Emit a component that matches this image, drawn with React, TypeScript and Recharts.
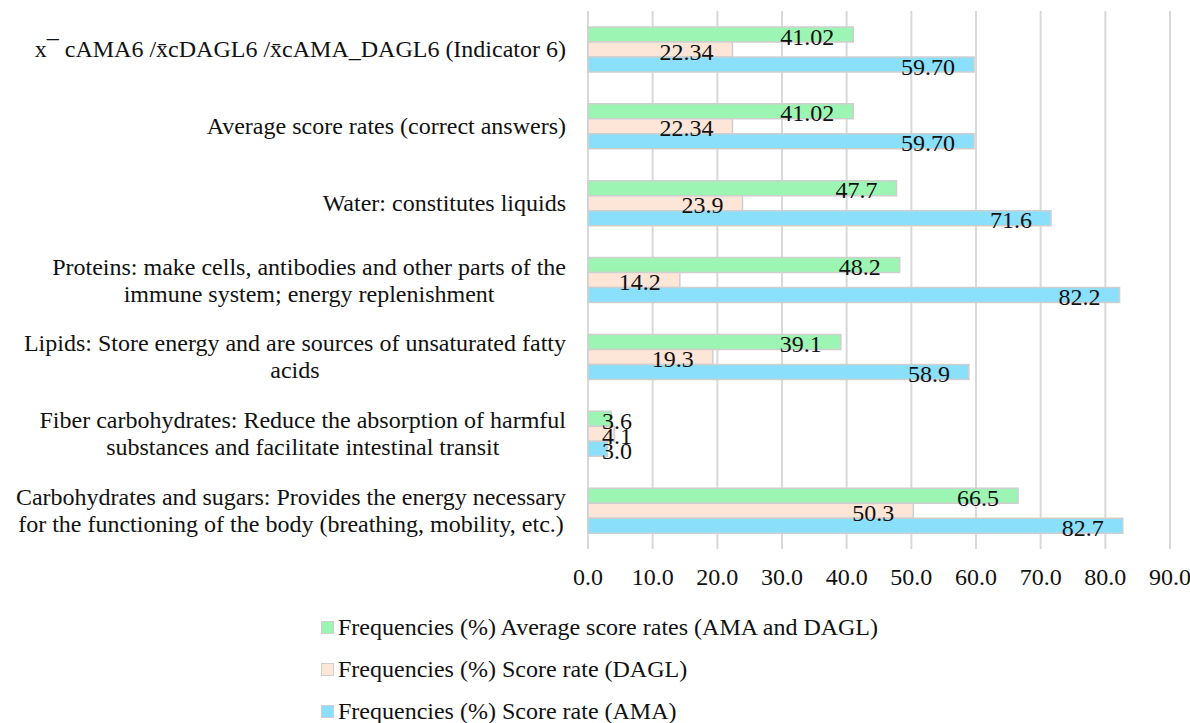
import React from 'react';
import { BarChart, Bar, XAxis, YAxis, CartesianGrid, LabelList, Legend } from 'recharts';

const FONT = 'Liberation Serif, Tinos, Times New Roman, DejaVu Serif, serif';
const FONT_SIZE = 24;

// Category labels, top to bottom, already split into their display lines
const categoryLines: string[][] = [
  ['x\u00AF cAMA6 /x\u0304cDAGL6 /x\u0304cAMA_DAGL6 (Indicator 6)'],
  ['Average score rates (correct answers)'],
  ['Water: constitutes liquids'],
  ['Proteins: make cells, antibodies and other parts of the', 'immune system; energy replenishment'],
  ['Lipids: Store energy and are sources of unsaturated fatty', 'acids'],
  ['Fiber carbohydrates: Reduce the absorption of harmful', 'substances and facilitate intestinal transit'],
  ['Carbohydrates and sugars: Provides the energy necessary', 'for the functioning of the body (breathing, mobility, etc.)'],
];
const categories = categoryLines.map((l) => l.join(' '));

const averageRates = [41.02, 41.02, 47.7, 48.2, 39.1, 3.6, 66.5];
const daglRates = [22.34, 22.34, 23.9, 14.2, 19.3, 4.1, 50.3];
const amaRates = [59.7, 59.7, 71.6, 82.2, 58.9, 3.0, 82.7];
const labelDecimals = [2, 2, 1, 1, 1, 1, 1];

const xTicks = [0, 10, 20, 30, 40, 50, 60, 70, 80, 90];

const seriesNames = [
  'Frequencies (%) Average score rates (AMA and DAGL)',
  'Frequencies (%) Score rate (DAGL)',
  'Frequencies (%) Score rate (AMA)',
];
const seriesKeys = ['avg', 'dagl', 'ama'];
const seriesColors = ['#9cf5b2', '#fde6d8', '#8adffb'];
const BORDER = '#cfcfcf';

const data = categories.map((name, i) => ({
  name,
  avg: averageRates[i],
  dagl: daglRates[i],
  ama: amaRates[i],
  dec: labelDecimals[i],
}));

let measureCtx: CanvasRenderingContext2D | null = null;
function textWidth(s: string): number {
  if (!measureCtx && typeof document !== 'undefined') {
    measureCtx = document.createElement('canvas').getContext('2d');
  }
  if (measureCtx) {
    measureCtx.font = `${FONT_SIZE}px ${FONT}`;
    return measureCtx.measureText(s).width;
  }
  return s.length * FONT_SIZE * 0.45;
}

const textStyle = { fontFamily: FONT, fontSize: FONT_SIZE } as React.CSSProperties;

const CategoryTick = (props: any) => {
  const { x, y, payload } = props;
  const lines = categoryLines[payload.index] ?? [String(payload.value)];
  const lineHeight = 27;
  if (lines.length === 1) {
    return (
      <text x={x} y={y} textAnchor="end" dominantBaseline="central" style={textStyle} fill="#111">
        {lines[0]}
      </text>
    );
  }
  // wrapped labels: lines centred on each other, block right-aligned to the axis
  const blockW = Math.max(...lines.map(textWidth));
  const cx = x - blockW / 2;
  const startY = y - ((lines.length - 1) * lineHeight) / 2;
  return (
    <g>
      {lines.map((l, i) => (
        <text key={i} x={cx} y={startY + i * lineHeight} textAnchor="middle" dominantBaseline="central" style={textStyle} fill="#111">
          {l}
        </text>
      ))}
    </g>
  );
};

const ValueLabel = (props: any) => {
  const { x, y, width, height, value, index } = props;
  const dec = data[index]?.dec ?? 1;
  const text = Number(value).toFixed(dec);
  const w = textWidth(text);
  const end = Math.max(x + width - 19, x + 14 + w);
  return (
    <text x={end} y={y + height / 2 + 2} textAnchor="end" dominantBaseline="central" style={textStyle} fill="#111">
      {text}
    </text>
  );
};

const LegendRows = () => (
  <div style={{ fontFamily: FONT, fontSize: FONT_SIZE, color: '#111', lineHeight: 1 }}>
    {seriesNames.map((n, i) => (
      <div key={n} style={{ display: 'flex', alignItems: 'center', height: 42 }}>
        <span
          style={{
            display: 'inline-block',
            width: 11,
            height: 11,
            background: seriesColors[i],
            border: `1.5px solid ${BORDER}`,
            marginRight: 4,
          }}
        />
        <span>{n}</span>
      </div>
    ))}
  </div>
);

export default function App() {
  return (
    <div style={{ position: 'absolute', left: 0, top: 0, width: 1190, height: 723, background: '#fff', fontFamily: FONT }}>
      <BarChart
        width={1190}
        height={723}
        data={data}
        layout="vertical"
        margin={{ top: 11, right: 20, bottom: 0, left: 0 }}
        barGap={0}
        style={{ fontFamily: FONT }}
      >
        <CartesianGrid horizontal={false} vertical stroke="#d9d9d9" strokeWidth={2} />
        <XAxis
          type="number"
          domain={[0, 90]}
          ticks={xTicks}
          tickFormatter={(v: number) => v.toFixed(1)}
          axisLine={false}
          tickLine={false}
          tickSize={0}
          tickMargin={19}
          height={174}
          interval={0}
          tick={{ style: textStyle, fill: '#111' }}
        />
        <YAxis
          type="category"
          dataKey="name"
          width={588}
          axisLine={false}
          tickLine={false}
          tickSize={0}
          tickMargin={22}
          interval={0}
          tick={<CategoryTick />}
        />
        <Legend
          layout="horizontal"
          verticalAlign="middle"
          align="center"
          wrapperStyle={{ top: 606, left: 321, width: 'auto', height: 'auto' }}
          content={<LegendRows />}
        />
        {seriesKeys.map((k, i) => (
          <Bar
            key={k}
            dataKey={k}
            name={seriesNames[i]}
            fill={seriesColors[i]}
            stroke={BORDER}
            strokeWidth={1.5}
            barSize={15}
            isAnimationActive={false}
          >
            <LabelList dataKey={k} content={<ValueLabel />} />
          </Bar>
        ))}
      </BarChart>
    </div>
  );
}
